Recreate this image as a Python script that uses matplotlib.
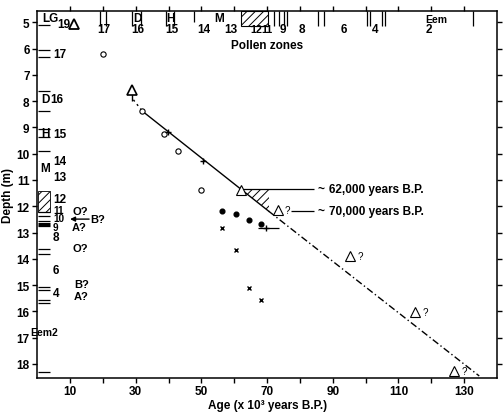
import numpy as np
import matplotlib.pyplot as plt
from matplotlib.patches import Polygon, Rectangle

plt.rcParams['font.family'] = ['Liberation Sans', 'DejaVu Sans']
plt.rcParams['font.weight'] = 'bold'
plt.rcParams['axes.labelweight'] = 'bold'
plt.rcParams['hatch.linewidth'] = 0.7

# ---- dated samples (age in kyr B.P., depth in m) ----
open_circle_age = [20.1, 32.0, 38.7, 43.0, 50.0]
open_circle_depth = [6.21, 8.38, 9.25, 9.90, 11.38]
plus_age = [39.9, 50.6]
plus_depth = [9.18, 10.28]
dot_age = [56.2, 60.4, 64.4, 68.0]
dot_depth = [12.18, 12.29, 12.52, 12.67]
cross_age = [56.2, 60.4, 64.4, 68.0]
cross_depth = [12.83, 13.66, 15.10, 15.56]
tri_age = [62.0]
tri_depth = [11.38]
tri_q_age = [73.2, 95.2, 115.1, 127.0]
tri_q_depth = [12.14, 13.89, 16.02, 18.26]
err_age, err_depth, err_lo, err_hi = 69.6, 12.83, 2.4, 3.9
arrow_tri_age, arrow_tri_depth = 29.0, 7.58

# ---- age-depth model ----
start_age = [29.3, 32.0]
start_depth = [7.95, 8.38]
fit_age = [32.0, 70.5]
fit_depth = [8.38, 12.19]
extrap_age = [70.5, 134.6]
extrap_depth = [12.19, 18.46]
marker_ages = [62.0, 70.5]      # 62,000 and 70,000 yr horizons
marker_labels = ['62,000 years B.P.', '70,000 years B.P.']

# ---- pollen zones on the age axis (top) ----
zone_lines = [19.2, 21.0, 29.0, 31.7, 39.3, 41.8, 72.0, 73.5, 75.3, 76.2,
              85.4, 87.3, 100.4, 101.3, 105.0, 105.9, 132.8]
zone_hatch = [62.1, 70.2]
zone_num_age = [20.4, 30.5, 41.0, 50.6, 58.8, 66.6, 69.9, 74.8, 80.6, 93.4, 102.9, 119.3]
zone_num_text = ['17', '16', '15', '14', '13', '12', '11', '9', '8', '6', '4', '2']
zone_name_age = [3.9, 30.4, 40.6, 55.5, 121.5]
zone_name_text = ['LG', 'D', 'H', 'M', 'Eem']

# ---- pollen zones on the depth column (left) ----
col_lines = [5.1, 6.06, 6.32, 7.62, 8.38, 9.07, 9.37, 9.9, 12.22, 12.37, 12.56,
             12.75, 13.62, 13.81, 15.07, 15.18, 15.56, 15.68, 18.3]
col_bold = [12.67]
col_hatch = [11.42, 12.22]
col_num_depth = [6.2, 7.92, 9.25, 10.28, 10.89, 11.74, 12.13, 12.45, 12.78, 13.17, 14.43, 15.29]
col_num_text = ['17', '16', '15', '14', '13', '12', '11', '10', '9', '8', '6', '4']
col_name_depth = [7.92, 9.22, 10.55]
col_name_text = ['D', 'H', 'M']
q_age = [10.6, 16.0, 10.6, 10.6, 11.2, 11.2]
q_depth = [12.17, 12.49, 12.8, 13.58, 14.95, 15.41]
q_text = ['O?', 'B?', 'A?', 'O?', 'B?', 'A?']

xtick_vals = list(range(10, 140, 10))
xtick_labels = ['10', '', '30', '', '50', '', '70', '', '90', '', '110', '', '130']
ytick_vals = list(range(5, 19))

fig = plt.figure(figsize=(5.03, 4.14), dpi=100)
ax = fig.add_axes([0.074, 0.085, 0.914, 0.886])
ax.set_xlim(0, 140)
ax.set_ylim(18.53, 4.57)

fs = 8.5
sm = 7.2
# age-depth model
ax.plot(start_age, start_depth, color='k', lw=1, ls=(0, (1.5, 2.5)))
ax.plot(fit_age, fit_depth, color='k', lw=1)
ax.plot(extrap_age, extrap_depth, color='k', lw=1, ls=(0, (5, 2, 1, 2)))

# hatched wedge between the 62,000 and 70,000 horizons
d62 = np.interp(marker_ages[0], fit_age, fit_depth)
d70 = np.interp(marker_ages[1], fit_age, fit_depth)
ax.add_patch(Polygon([[marker_ages[0], d62], [marker_ages[1], d62], [marker_ages[1], d70]],
                     closed=True, fill=False, hatch='////', lw=0))
ax.hlines(d62, marker_ages[0], 84.2, color='k', lw=0.9)
ax.hlines(d70, 77.3, 84.2, color='k', lw=0.9)
for d, lab in zip([d62, d70], marker_labels):
    ax.text(85.3, d, '~', fontsize=fs, va='center', ha='left')
    ax.text(88.8, d, lab, fontsize=fs, va='center', ha='left')

# samples
ax.plot(open_circle_age, open_circle_depth, 'o', mfc='white', mec='k', ms=3.8, mew=0.8)
ax.plot(plus_age, plus_depth, '+', color='k', ms=4.5, mew=1)
ax.plot(dot_age, dot_depth, 'o', color='k', ms=3.4)
ax.plot(cross_age, cross_depth, 'x', color='k', ms=3.5, mew=1)
ax.plot(tri_age, tri_depth, '^', mfc='white', mec='k', ms=6.5, mew=0.8)
ax.plot(tri_q_age, tri_q_depth, '^', mfc='white', mec='k', ms=6.5, mew=0.8)
for a, d in zip(tri_q_age, tri_q_depth):
    ax.text(a + 2.2, d, '?', fontsize=7, fontweight='normal', va='center', ha='left')
ax.errorbar([err_age], [err_depth], xerr=[[err_lo], [err_hi]], fmt='+', color='k',
            ms=4.5, mew=1, elinewidth=0.9, capsize=0)
ax.vlines(arrow_tri_age, arrow_tri_depth, 8.0, color='k', lw=1)
ax.plot([arrow_tri_age], [arrow_tri_depth], '^', mfc='white', mec='k', ms=6.5, mew=1.2)

# pollen zones along the top
tr = ax.get_xaxis_transform()
ax.vlines(zone_lines, 0.958, 1, color='k', lw=0.9, transform=tr)
ax.vlines([47.6], 0.97, 1, color='k', lw=0.9, transform=tr)
ax.add_patch(Rectangle((zone_hatch[0], 0.958), zone_hatch[1] - zone_hatch[0], 0.042,
                       transform=tr, fill=False, hatch='////', lw=0.8))
for a, t in zip(zone_num_age, zone_num_text):
    ax.text(a, 5.26, t, fontsize=7.8 if t in ('12', '11') else fs, ha='center', va='center')
for a, t in zip(zone_name_age, zone_name_text):
    ax.text(a, 4.82 if t != 'Eem' else 4.88, t, fontsize=fs if t != 'Eem' else 7.5,
            ha='center', va='center')
ax.text(8.0, 5.07, '19', fontsize=fs, ha='center', va='center')
ax.plot([11.3], [5.05], '^', mfc='white', mec='k', ms=6.5, mew=1.3)
ax.text(70.1, 5.87, 'Pollen zones', fontsize=fs, ha='center', va='center')

# pollen zones along the depth column
ax.hlines(col_lines, 0.3, 4.0, color='k', lw=0.9)
ax.hlines(col_bold, 0.3, 4.0, color='k', lw=2.2)
ax.add_patch(Rectangle((0.3, col_hatch[0]), 3.7, col_hatch[1] - col_hatch[0],
                       fill=False, hatch='////', lw=0.6))
for d, t in zip(col_num_depth, col_num_text):
    tight = t in ('11', '10', '9')
    ax.text(3.9 if t == '16' else 4.8, d, t, fontsize=sm if tight else fs,
            ha='left', va='center')
for d, t in zip(col_name_depth, col_name_text):
    ax.text(2.4, d, t, fontsize=fs, ha='center', va='center')
ax.text(2.1, 16.79, 'Eem2', fontsize=7.5, ha='center', va='center', clip_on=False)
for a, d, t in zip(q_age, q_depth, q_text):
    ax.text(a, d, t, fontsize=8, ha='left', va='center')
ax.annotate('', xy=(10.0, 12.49), xytext=(15.8, 12.49),
            arrowprops=dict(arrowstyle='-|>', color='k', lw=1, mutation_scale=7,
                            shrinkA=0, shrinkB=0))

# axes
ax.set_xticks(xtick_vals)
ax.set_xticklabels(xtick_labels)
ax.set_yticks(ytick_vals)
ax.tick_params(axis='both', direction='out', top=True, right=True, length=3.5,
               width=1, labelsize=fs, pad=2)
for s in ax.spines.values():
    s.set_linewidth(1.1)
ax.set_xlabel('Age (x 10³ years B.P.)', fontsize=fs, labelpad=1)
ax.set_ylabel('Depth (m)', fontsize=fs, labelpad=2)

plt.savefig('out.png', dpi=100)
